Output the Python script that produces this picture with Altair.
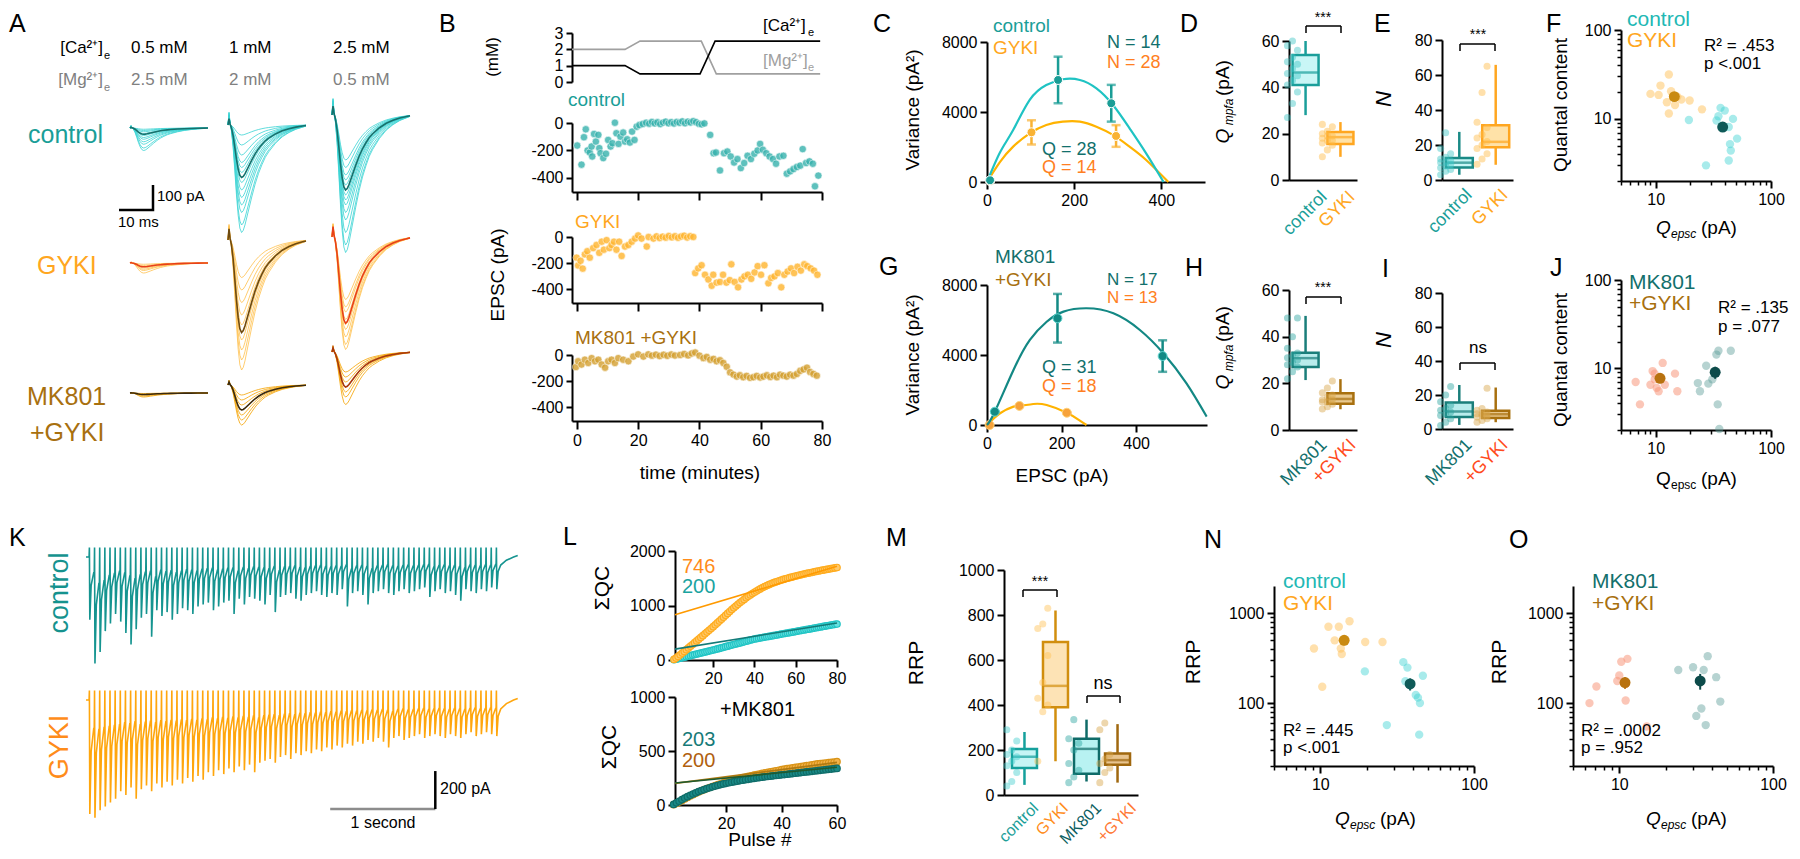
import altair as alt
import pandas as pd

W, H = 1784, 843
OX = OY = 8
FONT = "Liberation Sans"
ONE = pd.DataFrame({"k": [10.0]})
layers = []

# ---------------- colours ----------------
C_CTRL = "#1a9e98"
C_CTRL_L = "#33cfcf"
C_MK = "#12706c"
C_GY = "#ffa620"
C_GYR = "#ff7f22"
C_MKGY = "#a8700f"
C_SAL = "#f49f86"
C_RED = "#ff4a1c"

# ================= DATA =================
# Panel A: EPSC template waveform (ms, normalised) and per-cell amplitudes (pA)
A_TPL_T = [0, 0.3, 0.6, 1.0, 1.5, 2.0, 2.5, 3.0, 3.5, 4.0, 4.5, 5.0, 6.0, 7.0, 8.0, 9.0, 10.0, 11.0, 12.0, 14.0, 16.0, 18.0, 20.0, 22.0, 23.0]
A_TPL_V = [0, 0.12, 0.02, -0.05, -0.2, -0.42, -0.65, -0.84, -0.96, -1.0, -0.98, -0.93, -0.8, -0.67, -0.55, -0.45, -0.37, -0.3, -0.25, -0.17, -0.11, -0.07, -0.04, -0.02, -0.01]
A_AMP_CTRL = [[5, 10, 15, 22, 30, 38, 45, 55, 65, 80, 90],
              [40, 80, 120, 150, 170, 190, 210, 230, 260, 290, 320, 350, 400, 430],
              [180, 210, 240, 260, 280, 300, 320, 340, 360, 390, 420, 470, 520, 550]]
A_MEAN_CTRL = [25, 210, 300]
A_AMP_GYKI = [[5, 10, 15, 20, 25, 30, 40],
              [150, 200, 250, 300, 340, 370, 400, 440, 480, 520],
              [250, 280, 300, 330, 350, 370, 400, 430, 450]]
A_MEAN_GYKI = [15, 370, 345]
A_AMP_MK = [[2, 5, 8, 12, 16],
            [40, 60, 80, 100, 120, 140, 160],
            [80, 100, 120, 140, 160, 180, 210]]
A_MEAN_MK = [6, 100, 140]

# Panel B
B_CA_T = [-1.6, 15.7, 20.6, 40.2, 45.1, 79.4]
B_CA_V = [1, 1, 0.5, 0.5, 2.5, 2.5]
B_MG_T = [-1.6, 15.7, 20.6, 40.6, 45.5, 79.4]
B_MG_V = [2, 2, 2.5, 2.5, 0.5, 0.5]
B_CTRL_T = [0.1, 1.5, 2.3, 2.9, 3.5, 4.2, 4.8, 5.0, 5.6, 6.2, 7.0, 7.3, 7.7, 8.6, 9.5, 10.2, 11.0, 11.6, 12.4, 12.9, 13.6, 14.2, 15.1, 15.7, 16.4, 17.3, 18.0, 18.8, 19.5, 20.4, 21.5, 22.6, 23.6, 24.5, 25.4, 26.3, 27.2, 28.1, 29.0, 29.9, 30.8, 31.7, 32.6, 33.5, 34.4, 35.3, 36.2, 37.1, 38.0, 38.9, 39.8, 40.7, 41.6, 43.5, 44.6, 45.4, 46.7, 48.0, 49.1, 50.2, 51.3, 52.4, 53.5, 54.6, 55.7, 56.8, 57.9, 59.0, 59.8, 60.7, 61.8, 62.9, 64.0, 65.0, 66.1, 67.4, 68.5, 69.6, 70.7, 71.8, 72.9, 73.7, 74.8, 75.9, 77.0, 77.7, 78.8]
B_CTRL_V = [-165, -305, -104, -46, -201, -216, -172, -245, -80, -136, -87, -184, -221, -257, -225, -124, -172, -148, 2, -75, -153, -100, -70, -136, -119, -143, -63, -124, -27, -15, -7, 2, -5, 8, -3, 5, -8, 3, 10, -2, 6, -4, 8, 2, 12, -2, 10, 4, 14, 6, -6, -10, -3, -87, -221, -216, -347, -221, -209, -245, -289, -264, -330, -293, -240, -264, -225, -201, -153, -196, -221, -245, -264, -298, -245, -240, -371, -354, -337, -322, -312, -191, -293, -281, -298, -463, -385]
B_GY_T = [-0.1, 0.4, 1.2, 1.9, 2.6, 3.4, 4.2, 5.3, 6.4, 7.3, 8.1, 8.8, 9.7, 10.6, 11.3, 12.1, 12.9, 13.8, 14.6, 15.7, 16.8, 17.9, 19.0, 20.0, 21.1, 22.8, 23.4, 25.0, 26.0, 27.0, 28.0, 29.0, 30.0, 31.0, 32.0, 33.0, 34.0, 35.0, 36.0, 37.0, 38.0, 38.6, 39.6, 40.7, 41.8, 42.9, 44.0, 44.5, 45.6, 46.7, 47.7, 48.8, 49.9, 50.4, 51.5, 52.6, 53.7, 54.7, 55.8, 56.9, 58.0, 59.0, 60.1, 61.2, 62.5, 63.4, 64.5, 65.6, 66.7, 67.7, 68.8, 69.9, 70.9, 72.0, 73.1, 74.2, 75.2, 76.3, 77.4, 78.5]
B_GY_V = [-158, -218, -182, -242, -133, -109, -158, -85, -61, -121, -36, -97, -24, -85, -61, -36, -97, -36, -145, -73, -61, -36, -12, 12, -12, -73, 0, -12, 5, -8, 3, -5, 8, -3, 6, -6, 4, 10, -4, 6, 0, -276, -240, -216, -289, -325, -373, -289, -349, -344, -289, -349, -330, -209, -344, -385, -325, -301, -289, -320, -271, -223, -289, -216, -354, -313, -301, -276, -385, -289, -264, -240, -276, -228, -257, -209, -223, -240, -257, -289]
B_MK_T = [-0.3, 0.4, 1.5, 2.6, 3.7, 4.8, 5.9, 7.0, 8.1, 9.2, 10.2, 11.3, 12.4, 13.5, 15.1, 16.8, 18.4, 20.0, 21.7, 23.3, 24.5, 25.8, 27.0, 28.3, 29.5, 30.8, 32.0, 33.7, 35.0, 36.3, 37.5, 38.6, 40.0, 41.3, 42.4, 43.5, 44.6, 45.6, 46.7, 47.8, 48.9, 50.0, 51.1, 52.2, 53.2, 54.3, 55.4, 56.5, 57.6, 58.7, 59.8, 60.9, 62.0, 63.1, 64.2, 65.3, 66.3, 67.4, 68.5, 69.6, 70.7, 71.8, 72.9, 74.0, 75.1, 76.1, 77.2, 78.3]
B_MK_V = [-92, -48, -73, -36, -61, -24, -48, -36, -73, -97, -48, -36, -61, -24, -36, -48, -12, 5, -12, 5, -5, 3, -8, 2, -6, 4, -4, 0, 8, -3, 12, 19, -5, -24, -15, -36, -30, -48, -40, -61, -90, -133, -150, -165, -155, -170, -160, -175, -170, -160, -172, -165, -155, -168, -158, -170, -150, -158, -165, -150, -158, -145, -121, -110, -97, -130, -145, -158]

# Panel C / G (variance-mean)
C_CT_X = [7, 163, 285]; C_CT_Y = [100, 5830, 4500]; C_CT_E = [0, 1330, 1050]
C_GY_X = [7, 102, 296]; C_GY_Y = [50, 2840, 2630]; C_GY_E = [0, 690, 620]
C_CT_FX = [0, 30, 60, 98, 136, 174, 213, 251, 289, 327, 365, 405]
C_CT_FY = [0, 1700, 2970, 4690, 5540, 5870, 5830, 5350, 4400, 3070, 1640, 0]
C_GY_FX = [0, 30, 60, 98, 136, 174, 213, 251, 289, 327, 365, 416]
C_GY_FY = [0, 1150, 2020, 2780, 3260, 3450, 3450, 3160, 2690, 2020, 1260, 0]
G_MK_X = [21, 189, 471]; G_MK_Y = [760, 6100, 3940]; G_MK_E = [0, 1390, 900]
G_GY_X = [7, 87, 214]; G_GY_Y = [0, 1090, 700]; G_GY_E = [0, 0, 0]
G_MK_FX = [0, 21, 71, 115, 160, 205, 267, 339, 410, 473, 535, 589]
G_MK_FY = [0, 760, 3140, 4860, 5900, 6480, 6670, 6380, 5430, 4100, 2380, 480]
G_GY_FX = [0, 35, 71, 87, 124, 160, 214, 249, 267]
G_GY_FY = [0, 670, 1050, 1090, 1200, 1140, 700, 250, 0]

# Box plots: lo, q1, median, q3, hi
D_CATS = ["control", "GYKI"]
D_STATS = [[28, 41, 46.4, 54, 60], [10, 15.5, 18.5, 20.7, 25]]
D_PTS = [[27, 33, 38, 41, 43, 45, 46, 48, 50, 51, 53, 56, 58, 60], [10, 13, 15, 16, 17, 17, 18, 19, 19, 20, 21, 23, 24]]
E_STATS = [[3, 7.1, 9.9, 12.6, 27.5], [8.7, 18.7, 21.8, 31.3, 65.8]]
E_PTS = [[3, 5, 6, 7, 8, 9, 10, 10, 11, 12, 13, 15, 18, 27], [9, 12, 15, 18, 20, 22, 24, 26, 30, 33, 50, 65]]
H_CATS = ["MK801", "+GYKI"]
H_STATS = [[21.4, 27, 30.8, 33.1, 48.9], [8.9, 11.2, 13.3, 15.7, 21.8]]
H_PTS = [[22, 25, 27, 28, 29, 30, 31, 32, 33, 35, 40, 48, 48], [9, 10, 11, 12, 12, 13, 13, 14, 15, 16, 18, 21]]
I_STATS = [[2.4, 7.1, 10.3, 15.6, 25.9], [4, 6.5, 8.7, 10.8, 24.4]]
I_PTS = [[2, 4, 6, 8, 9, 10, 11, 12, 14, 16, 20, 25], [4, 5, 6, 7, 8, 8, 9, 9, 10, 11, 12, 24]]
M_CATS = ["control", "GYKI", "MK801", "+GYKI"]
M_STATS = [[45, 120, 170, 205, 280], [150, 390, 485, 680, 820], [60, 95, 205, 250, 335], [55, 135, 155, 185, 315]]
M_PTS = [[40, 60, 100, 130, 150, 170, 180, 200, 240, 290], [150, 370, 400, 430, 500, 620, 740, 760, 830],
         [55, 80, 110, 140, 200, 230, 250, 335], [55, 100, 120, 140, 160, 180, 290, 320]]

# Scatter panels (F, J, N, O)
F_GY_Q = [9.0, 10.6, 13.0, 11.0, 13.0, 14.7, 16.7, 19.7, 25.2, 13.6, 12.5, 15.4]
F_GY_QC = [19.1, 18.6, 31.6, 23.7, 11.5, 14.3, 16.5, 16.1, 12.8, 20.5, 15.4, 17.8]
F_CT_Q = [19.4, 27.3, 35.0, 36.5, 43.0, 44.1, 44.8, 43.0, 50.8, 39.7, 33.7, 46.8]
F_CT_QC = [9.7, 3.0, 10.7, 13.3, 8.1, 5.2, 4.4, 3.4, 6.0, 12.4, 9.6, 10.0]
F_MEAN_Q = [14.5, 38.1]; F_MEAN_QC = [17.8, 8.1]; F_MEAN_E = [1.2, 0.8]
J_GY_Q = [6.7, 7.3, 9.4, 9.8, 9.0, 10.2, 11.5, 10.6, 12.0, 14.7, 15.4, 9.8]
J_GY_QC = [7.0, 3.9, 9.3, 7.5, 6.5, 6.0, 11.5, 5.5, 6.5, 8.7, 5.5, 8.7]
J_MK_Q = [23.2, 24.2, 28.6, 27.4, 31.0, 33.6, 35.0, 44.8, 34.5, 35.6, 32.3]
J_MK_QC = [6.8, 5.5, 6.7, 10.7, 7.5, 14.3, 15.8, 15.8, 3.9, 2.05, 9.3]
J_MEAN_Q = [10.9, 32.8]; J_MEAN_QC = [7.7, 9.0]; J_MEAN_E = [0.9, 1.4]
N_GY_Q = [9.1, 10.3, 11.3, 13.2, 15.5, 13.6, 13.8, 19.6, 25.4, 12.4]
N_GY_R = [404, 152, 706, 706, 811, 404, 351, 477, 477, 498]
N_CT_Q = [19.5, 27.1, 34.7, 36.9, 35.8, 41.8, 43.2, 44.5, 46.5, 44.0]
N_CT_R = [225, 57, 285, 248, 175, 123, 115, 100, 201, 44.6]
N_MEAN_Q = [14.3, 38.4]; N_MEAN_R = [498, 163]; N_MEAN_E = [60, 25]
O_GY_Q = [6.4, 7.1, 9.7, 10.3, 11.3, 11.0, 10.0, 11.0, 15.1]
O_GY_R = [100, 153, 176, 288, 310, 107, 203, 164, 55]
O_MK_Q = [24.2, 30.2, 35.4, 37.6, 42.7, 45.4, 34.2, 31.7, 36.5]
O_MK_R = [233, 250, 233, 332, 194, 104, 87, 72, 57]
O_MEAN_Q = [10.9, 33.6]; O_MEAN_R = [169, 176]; O_MEAN_E = [25, 35]

# Panel K: per-pulse EPSC amplitudes (pA), 20 Hz train
K_CTRL = [330, 560, 500, 390, 350, 300, 340, 400, 460, 380, 320, 300, 420, 280, 310, 290, 330, 300, 270, 280,
          300, 260, 250, 240, 280, 260, 240, 230, 300, 220, 250, 210, 220, 230, 250, 200, 290, 210, 200, 190,
          220, 230, 200, 190, 180, 200, 210, 190, 200, 170, 260, 190, 180, 200, 250, 190, 180, 170, 190, 200,
          180, 170, 190, 180, 170, 160, 210, 180, 170, 190, 180, 200, 230, 170, 180, 190, 170, 180, 160, 170]
K_GYKI = [600, 620, 580, 560, 540, 520, 480, 500, 460, 520, 470, 450, 480, 440, 460, 430, 450, 420, 440, 410,
          430, 400, 420, 380, 400, 370, 390, 360, 380, 350, 370, 340, 380, 330, 320, 310, 330, 300, 290, 310,
          280, 290, 270, 280, 260, 270, 250, 260, 240, 250, 230, 240, 220, 230, 210, 220, 200, 220, 250, 200,
          190, 210, 200, 190, 180, 200, 190, 180, 190, 200, 180, 190, 200, 180, 170, 190, 180, 170, 180, 190]
K_ART = 50
K_OFF_T = [0.0, 0.003, 0.007, 0.02, 0.045]
K_OFF_F = [-0.25, None, -1.0, -0.45, -0.25]

# Panel L: cumulative quantal content
L_GY = [10, 35, 65, 96, 127, 158, 190, 222, 253, 285, 318, 350, 382, 414, 447, 480, 512, 545, 578, 612,
        646, 680, 715, 750, 785, 820, 855, 890, 925, 958, 990, 1022, 1053, 1083, 1112, 1140, 1168, 1194, 1219, 1243,
        1266, 1288, 1309, 1329, 1348, 1366, 1383, 1399, 1414, 1428, 1441, 1454, 1466, 1478, 1489, 1500, 1510, 1520, 1530, 1540,
        1549, 1558, 1567, 1576, 1585, 1593, 1601, 1609, 1617, 1625, 1633, 1641, 1648, 1655, 1662, 1669, 1676, 1683, 1690, 1697]
L_CT = [5, 14, 24, 33, 43, 52, 61, 71, 80, 90, 99, 108, 118, 127, 136, 146, 155, 164, 174, 183,
        193, 203, 213, 223, 233, 244, 254, 264, 274, 284, 294, 304, 314, 324, 334, 345, 355, 365, 375, 385,
        392, 399, 406, 413, 420, 426, 433, 440, 447, 454, 461, 468, 475, 482, 489, 495, 502, 509, 516, 523,
        530, 537, 544, 551, 558, 564, 571, 578, 585, 592, 599, 606, 613, 620, 627, 633, 640, 647, 654, 660]
L_MK = [5, 20, 35, 50, 64, 77, 90, 102, 113, 124, 134, 143, 152, 160, 168, 175, 182, 189, 195, 201,
        206, 211, 216, 221, 226, 230, 234, 238, 242, 246, 250, 254, 258, 261, 264, 267, 270, 273, 276, 279,
        282, 285, 288, 291, 294, 297, 300, 303, 306, 309, 312, 315, 318, 321, 324, 327, 330, 333, 336, 339]
L_MKGY = [3, 15, 28, 42, 56, 70, 83, 96, 108, 120, 131, 142, 152, 162, 171, 180, 189, 197, 205, 213,
          220, 227, 234, 241, 247, 253, 259, 265, 271, 277, 282, 287, 292, 297, 302, 307, 312, 317, 322, 327,
          332, 336, 340, 344, 348, 352, 356, 360, 364, 368, 372, 376, 380, 383, 386, 389, 392, 395, 398, 401]
L_FIT_TOP = {"GYKI": ([1.5, 80], [830, 1720]), "control": ([1.5, 80], [200, 680])}
L_FIT_BOT = {"MK": ([1.5, 60], [203, 350]), "MKGY": ([1.5, 60], [200, 395])}


# ================= HELPERS =================
def sx(dom, a, b, typ="linear"):
    kw = dict(type=typ, domain=dom, range=[a - OX, b - OX], nice=False)
    if typ == "linear":
        kw["zero"] = False
    return alt.Scale(**kw)


def sy(dom, yb, yt, typ="linear"):
    kw = dict(type=typ, domain=dom, range=[yb - OY, yt - OY], nice=False)
    if typ == "linear":
        kw["zero"] = False
    return alt.Scale(**kw)


def _ax(**kw):
    d = dict(title=None, grid=False, labelFlush=False, labelOverlap=False, domainColor="black", domainWidth=2,
             tickColor="black", tickWidth=2, tickSize=7, labelFont=FONT, labelFontSize=16, labelColor="black",
             labelPadding=3)
    d.update(kw)
    return d


def AXB(Y, values=None, labels=True, **kw):
    d = _ax(**kw)
    d.update(orient="bottom", offset=(Y - OY) - H, labels=labels)
    if values is not None:
        d["values"] = values
    if labels and "labelExpr" not in d:
        d["labelExpr"] = "'' + datum.value"
    return alt.Axis(**d)


def AXL(X, values=None, labels=True, **kw):
    d = _ax(**kw)
    d.update(orient="left", offset=OX - X, labels=labels)
    if values is not None:
        d["values"] = values
    if labels and "labelExpr" not in d:
        d["labelExpr"] = "'' + datum.value"
    return alt.Axis(**d)


def T(s, X, Y, size=16, color="black", align="left", baseline="middle", angle=0, style="normal"):
    layers.append(alt.Chart(ONE).mark_text(text=s, font=FONT, fontSize=size, color=color, align=align,
                                           baseline=baseline, angle=angle, fontStyle=style)
                  .encode(x=alt.value(X - OX), y=alt.value(Y - OY)))


def LET(s, X, Y):
    # panel letter; Y is the baseline
    T(s, X, Y, 25, baseline="alphabetic")


def R(X1, Y1, X2, Y2, color="black", w=2):
    layers.append(alt.Chart(ONE).mark_rule(color=color, strokeWidth=w)
                  .encode(x=alt.value(X1 - OX), y=alt.value(Y1 - OY), x2=alt.value(X2 - OX), y2=alt.value(Y2 - OY)))


def bracket(xa, xb, y, leg=7):
    R(xa, y + leg, xa, y, w=1.5)
    R(xa, y, xb, y, w=1.5)
    R(xb, y, xb, y + leg, w=1.5)


# ================= PANEL A =================
A_COLX = [130, 228, 332]
A_SPECS = [
    (A_AMP_CTRL, A_MEAN_CTRL, "#3ad3d3", ["#17706c", "#17706c", "#17706c"], [128, 125, 115]),
    (A_AMP_GYKI, A_MEAN_GYKI, "#ffc04d", ["#e8401a", "#6e4a10", "#e8401a"], [263, 240, 237]),
    (A_AMP_MK, A_MEAN_MK, "#f5a300", ["#3a2a10", "#3a2a10", "#a8380e"], [393, 385, 352]),
]
for amps_row, mean_row, light, darks, bases in A_SPECS:
    for c in range(3):
        rows = []
        for k, a in enumerate(amps_row[c]):
            for t, f in zip(A_TPL_T, A_TPL_V):
                rows.append({"k": k, "t": t, "v": a * f})
        df = pd.DataFrame(rows)
        mdf = pd.DataFrame({"t": A_TPL_T, "v": [mean_row[c] * f for f in A_TPL_V]})
        xs = sx([0, 23], A_COLX[c], A_COLX[c] + 78)
        ys = sy([-600, 0], bases[c] + 150, bases[c])
        layers.append(alt.Chart(df).mark_line(color=light, strokeWidth=1, opacity=0.8)
                      .encode(x=alt.X("t:Q", scale=xs, axis=None), y=alt.Y("v:Q", scale=ys, axis=None), detail="k:N"))
        layers.append(alt.Chart(mdf).mark_line(color=darks[c], strokeWidth=1.6)
                      .encode(x=alt.X("t:Q", scale=xs, axis=None), y=alt.Y("v:Q", scale=ys, axis=None)))

# scale bar A: 10 ms / 100 pA
sbA = pd.DataFrame({"t": [0, 10, 10], "v": [0, 0, 100]})
layers.append(alt.Chart(sbA).mark_line(color="black", strokeWidth=2.5)
              .encode(x=alt.X("t:Q", scale=sx([0, 10], 119, 153), axis=None),
                      y=alt.Y("v:Q", scale=sy([0, 100], 210, 185), axis=None)))
T("100 pA", 157, 196, 15)
T("10 ms", 118, 222, 15)

ROW1 = 32
LET("A", 9, ROW1)
T("[Ca²⁺]", 103, 48, 17, align="right")
T("e", 104, 56, 11)
T("[Mg²⁺]", 103, 80, 17, "#808080", align="right")
T("e", 104, 88, 11, "#808080")
for s, x in zip(["0.5 mM", "1 mM", "2.5 mM"], A_COLX):
    T(s, x + 1, 48, 17)
for s, x in zip(["2.5 mM", "2 mM", "0.5 mM"], A_COLX):
    T(s, x + 1, 80, 17, "#808080")
T("control", 28, 135, 25, C_CTRL)
T("GYKI", 37, 266, 25, C_GY)
T("MK801", 27, 397, 25, C_MKGY)
T("+GYKI", 30, 433, 25, C_MKGY)

# ================= PANEL B =================
LET("B", 439, ROW1)
Bx = sx([-1.6, 80], 572, 822)
concY = sy([0, 3], 82, 33)
layers.append(alt.Chart(pd.DataFrame({"t": B_MG_T, "v": B_MG_V})).mark_line(color="#a0a0a0", strokeWidth=1.6)
              .encode(x=alt.X("t:Q", scale=Bx, axis=None),
                      y=alt.Y("v:Q", scale=concY, axis=AXL(572, [0, 1, 2, 3], tickSize=6))))
layers.append(alt.Chart(pd.DataFrame({"t": B_CA_T, "v": B_CA_V})).mark_line(color="black", strokeWidth=1.6)
              .encode(x=alt.X("t:Q", scale=Bx, axis=None), y=alt.Y("v:Q", scale=concY, axis=None)))
T("(mM)", 493, 57, 17, angle=270, align="center")
T("[Ca²⁺]", 763, 26, 17)
T("e", 808, 33, 11)
T("[Mg²⁺]", 763, 61, 17, "#a0a0a0")
T("e", 808, 68, 11, "#a0a0a0")

for (tt, vv, col, yb, yt, lab) in [(B_CTRL_T, B_CTRL_V, "#37b2ad", 192, 123, False),
                                    (B_GY_T, B_GY_V, "#ffb52e", 303, 237, False),
                                    (B_MK_T, B_MK_V, "#d4a030", 421, 355, True)]:
    ys = sy([-505, 0], yb, yt)
    layers.append(alt.Chart(pd.DataFrame({"t": tt, "v": vv}))
                  .mark_circle(size=55, color=col, opacity=0.8, stroke="white", strokeWidth=0.6)
                  .encode(x=alt.X("t:Q", scale=Bx, axis=AXB(yb, [0, 20, 40, 60, 80], labels=lab, tickSize=8)),
                          y=alt.Y("v:Q", scale=ys, axis=AXL(572, [0, -200, -400], tickSize=6))))
T("control", 568, 100, 19, C_CTRL)
T("GYKI", 575, 222, 19, C_GY)
T("MK801 +GYKI", 575, 338, 19, C_MKGY)
T("EPSC (pA)", 498, 275, 19, angle=270, align="center")
T("time (minutes)", 700, 473, 19, align="center")

# ================= PANEL C / G =================
def varmean(px_x, py_, pe, fx, fy, col_pt, col_line, xs, ys, axes=False, yax=None, xax=None, stroke="white"):
    ldf = pd.DataFrame({"x": fx, "y": fy})
    layers.append(alt.Chart(ldf).mark_line(color=col_line, strokeWidth=2.2, interpolate="natural")
                  .encode(x=alt.X("x:Q", scale=xs, axis=xax if axes else None),
                          y=alt.Y("y:Q", scale=ys, axis=yax if axes else None)))
    pdf = pd.DataFrame({"x": px_x, "y": py_, "lo": [a - b for a, b in zip(py_, pe)], "hi": [a + b for a, b in zip(py_, pe)]})
    layers.append(alt.Chart(pdf).mark_rule(color=col_pt, strokeWidth=2.5)
                  .encode(x=alt.X("x:Q", scale=xs, axis=None), y=alt.Y("lo:Q", scale=ys, axis=None), y2="hi:Q"))
    layers.append(alt.Chart(pdf).mark_tick(color=col_pt, thickness=2.5, size=9, orient="horizontal")
                  .encode(x=alt.X("x:Q", scale=xs, axis=None), y=alt.Y("hi:Q", scale=ys, axis=None)))
    layers.append(alt.Chart(pdf).mark_tick(color=col_pt, thickness=2.5, size=9, orient="horizontal")
                  .encode(x=alt.X("x:Q", scale=xs, axis=None), y=alt.Y("lo:Q", scale=ys, axis=None)))
    layers.append(alt.Chart(pdf).mark_circle(size=80, color=col_pt, opacity=1, stroke=stroke, strokeWidth=1)
                  .encode(x=alt.X("x:Q", scale=xs, axis=None), y=alt.Y("y:Q", scale=ys, axis=None)))


Cx = sx([0, 500], 987, 1205); Cy = sy([0, 8000], 182, 42)
varmean(C_GY_X, C_GY_Y, C_GY_E, C_GY_FX, C_GY_FY, "#f9b233", "#ffb300", Cx, Cy)
varmean(C_CT_X, C_CT_Y, C_CT_E, C_CT_FX, C_CT_FY, "#1a9d96", "#1fc3c3", Cx, Cy, True,
        AXL(987, [0, 4000, 8000]), AXB(182, [0, 200, 400]))
Gx = sx([0, 590], 987, 1207); Gy = sy([0, 8000], 425, 285)
varmean(G_GY_X, G_GY_Y, G_GY_E, G_GY_FX, G_GY_FY, "#f7a23a", "#ffb300", Gx, Gy, stroke="#ffd27a")
varmean(G_MK_X, G_MK_Y, G_MK_E, G_MK_FX, G_MK_FY, "#138a84", "#138884", Gx, Gy, True,
        AXL(987, [0, 4000, 8000]), AXB(425, [0, 200, 400]), stroke="#5fd6d0")
LET("C", 873, ROW1)
LET("G", 879, 275)
T("Variance (pA²)", 913, 110, 19, angle=270, align="center")
T("Variance (pA²)", 913, 355, 19, angle=270, align="center")
T("control", 993, 26, 19, C_CTRL)
T("GYKI", 993, 48, 19, C_GY)
T("N = 14", 1107, 43, 18, C_MK)
T("N = 28", 1107, 63, 18, C_GYR)
T("Q = 28", 1042, 150, 18, C_MK)
T("Q = 14", 1042, 168, 18, C_GYR)
T("MK801", 995, 257, 19, C_MK)
T("+GYKI", 995, 280, 19, C_MKGY)
T("N = 17", 1107, 280, 17, C_MK)
T("N = 13", 1107, 298, 17, C_GYR)
T("Q = 31", 1042, 368, 18, C_MK)
T("Q = 18", 1042, 387, 18, C_GYR)
T("EPSC (pA)", 1062, 476, 19, align="center")


# ================= BOX PANELS =================
def box_panel(cats, stats, pts, strokes, fills, pcols, X0, X1, Yb, Yt, ydom, yvals, pin, pout, bw):
    xs = alt.Scale(type="band", domain=cats, range=[X0 - OX, X1 - OX], paddingInner=pin, paddingOuter=pout)
    ys = sy(ydom, Yb, Yt)
    st = pd.DataFrame({"cat": cats, "lo": [s[0] for s in stats], "q1": [s[1] for s in stats],
                       "med": [s[2] for s in stats], "q3": [s[3] for s in stats], "hi": [s[4] for s in stats],
                       "s": strokes, "f": fills})
    prow = []
    for ci, (c, vals) in enumerate(zip(cats, pts)):
        for i, v in enumerate(vals):
            prow.append({"cat": c, "v": v, "c": pcols[ci], "off": ((i % 3) - 1) * 5})
    pdf = pd.DataFrame(prow)
    layers.append(alt.Chart(st).mark_rule(strokeWidth=2.5)
                  .encode(x=alt.X("cat:N", scale=xs, axis=AXB(Yb, labels=False, ticks=False)),
                          y=alt.Y("lo:Q", scale=ys, axis=AXL(X0, yvals)), y2="hi:Q",
                          color=alt.Color("s:N", scale=None)))
    layers.append(alt.Chart(st).mark_bar(strokeWidth=2.5, size=bw)
                  .encode(x=alt.X("cat:N", scale=xs, axis=None), y=alt.Y("q1:Q", scale=ys, axis=None), y2="q3:Q",
                          fill=alt.Fill("f:N", scale=None), stroke=alt.Stroke("s:N", scale=None)))
    layers.append(alt.Chart(st).mark_tick(thickness=2.5, size=bw, orient="horizontal")
                  .encode(x=alt.X("cat:N", scale=xs, axis=None), y=alt.Y("med:Q", scale=ys, axis=None),
                          color=alt.Color("s:N", scale=None)))
    layers.append(alt.Chart(pdf).mark_circle(size=50, opacity=0.45)
                  .encode(x=alt.X("cat:N", scale=xs, axis=None), xOffset=alt.XOffset("off:Q", scale=None),
                          y=alt.Y("v:Q", scale=ys, axis=None), color=alt.Color("c:N", scale=None)))


box_panel(D_CATS, D_STATS, D_PTS, ["#1a9e9a", "#ffa620"], ["#c9f6f6", "#ffe2a8"], ["#3fc6c6", "#ffbb44"],
          1289, 1357, 180, 41, [0, 60], [0, 20, 40, 60], 0.25, 0.1, 26)
box_panel(D_CATS, E_STATS, E_PTS, ["#1a8a86", "#ffa620"], ["#c9f6f6", "#ffe2a8"], ["#3fc6c6", "#ffbb44"],
          1442, 1513, 180, 40, [0, 80], [0, 20, 40, 60, 80], 0.25, 0.1, 27)
box_panel(H_CATS, H_STATS, H_PTS, ["#1a7e7a", "#a8700f"], ["#b9ecec", "#e9c98f"], ["#2aa5a0", "#d7a348"],
          1289, 1357, 430, 290, [0, 60], [0, 20, 40, 60], 0.25, 0.1, 26)
box_panel(H_CATS, I_STATS, I_PTS, ["#1a7e7a", "#a8700f"], ["#b9ecec", "#e9c98f"], ["#2aa5a0", "#d7a348"],
          1442, 1513, 429, 293, [0, 80], [0, 20, 40, 60, 80], 0.25, 0.1, 27)
box_panel(M_CATS, M_STATS, M_PTS, ["#15a09c", "#d18e0e", "#0f6b68", "#a0680f"],
          ["#c6f5f5", "#fde3b5", "#b8f2f2", "#e8c48f"], ["#45cfcf", "#ffc055", "#2aa5a0", "#d7a348"],
          1004, 1138, 795, 570, [0, 1000], [0, 200, 400, 600, 800, 1000], 0.18, 0.25, 25)

LET("D", 1180, ROW1); LET("E", 1374, ROW1); LET("H", 1185, 276); LET("I", 1382, 277); LET("M", 886, 546)
for yc in [104, 350]:
    T("Q", 1223, yc + 32, 19, angle=270, style="italic", align="center")
    T("mpfa", 1229, yc + 8, 12, angle=270, style="italic", align="center")
    T("(pA)", 1223, yc - 26, 19, angle=270, align="center")
T("N", 1384, 99, 22, angle=270, style="italic", align="center")
T("N", 1384, 340, 22, angle=270, style="italic", align="center")
T("***", 1323, 18, 14, align="center"); bracket(1306, 1341, 26)
T("***", 1478, 35, 14, align="center"); bracket(1460, 1495, 44)
T("***", 1323, 288, 14, align="center"); bracket(1306, 1341, 297)
T("ns", 1478, 348, 17, align="center"); bracket(1460, 1495, 363)
for s, x, col in [("control", 1318, C_CTRL), ("GYKI", 1346, C_GY)]:
    T(s, x, 188, 18, col, align="right", baseline="top", angle=315)
for s, x, col in [("control", 1463, C_CTRL), ("GYKI", 1499, C_GY)]:
    T(s, x, 186, 18, col, align="right", baseline="top", angle=315)
for s, x, col in [("MK801", 1318, C_MK), ("+GYKI", 1347, C_RED)]:
    T(s, x, 436, 18, col, align="right", baseline="top", angle=315)
for s, x, col in [("MK801", 1463, C_MK), ("+GYKI", 1499, C_RED)]:
    T(s, x, 436, 18, col, align="right", baseline="top", angle=315)
T("RRP", 917, 663, 21, angle=270, align="center")
T("***", 1040, 582, 14, align="center"); bracket(1023, 1057, 590)
T("ns", 1103, 684, 18, align="center"); bracket(1087, 1120, 696)
for s, x, col in [("control", 1030, C_CTRL), ("GYKI", 1060, "#ff8c1a"), ("MK801", 1093, "#0b5e5e"), ("+GYKI", 1128, "#ff7733")]:
    T(s, x, 800, 16, col, align="right", baseline="top", angle=315)


# ================= LOG SCATTER PANELS =================
MINOR = [2, 3, 4, 5, 6, 7, 8, 9, 20, 30, 40, 50, 60, 70, 80, 90, 200, 300, 400, 500, 600, 700, 800, 900]


def log_panel(xs, ys, X0, Yb, yvals, groups, means, mean_cols):
    mdf = pd.DataFrame({"q": [10.0], "r": [yvals[0]]})
    layers.append(alt.Chart(mdf).mark_point(opacity=0)
                  .encode(x=alt.X("q:Q", scale=xs, axis=AXB(Yb, [v for v in MINOR if xs.domain[0] <= v <= xs.domain[1]],
                                                          labels=False, domain=False, tickSize=4, tickWidth=1.5)),
                          y=alt.Y("r:Q", scale=ys, axis=AXL(X0, [v for v in MINOR if ys.domain[0] <= v <= ys.domain[1]],
                                                          labels=False, domain=False, tickSize=4, tickWidth=1.5))))
    first = True
    for q, r, col, op in groups:
        gdf = pd.DataFrame({"q": q, "r": r})
        layers.append(alt.Chart(gdf).mark_circle(size=70, color=col, opacity=op)
                      .encode(x=alt.X("q:Q", scale=xs, axis=AXB(Yb, [10, 100]) if first else None),
                              y=alt.Y("r:Q", scale=ys, axis=AXL(X0, yvals) if first else None)))
        first = False
    mq, mr, me = means
    mdf2 = pd.DataFrame({"q": mq, "r": mr, "lo": [a - b for a, b in zip(mr, me)], "hi": [a + b for a, b in zip(mr, me)],
                         "c": mean_cols})
    layers.append(alt.Chart(mdf2).mark_rule(strokeWidth=2)
                  .encode(x=alt.X("q:Q", scale=xs, axis=None), y=alt.Y("lo:Q", scale=ys, axis=None), y2="hi:Q",
                          color=alt.Color("c:N", scale=None)))
    layers.append(alt.Chart(mdf2).mark_circle(size=120, opacity=1)
                  .encode(x=alt.X("q:Q", scale=xs, axis=None), y=alt.Y("r:Q", scale=ys, axis=None),
                          color=alt.Color("c:N", scale=None)))


log_panel(sx([5, 100], 1621, 1771, "log"), sy([2, 100], 181, 30, "log"), 1621, 181, [10, 100],
          [(F_GY_Q, F_GY_QC, "#ffc25a", 0.5), (F_CT_Q, F_CT_QC, "#3fd2d2", 0.45)],
          (F_MEAN_Q, F_MEAN_QC, F_MEAN_E), ["#c98a12", "#0f5a58"])
log_panel(sx([5, 100], 1621, 1771, "log"), sy([2, 100], 430, 280, "log"), 1621, 430, [10, 100],
          [(J_GY_Q, J_GY_QC, "#f7987c", 0.55), (J_MK_Q, J_MK_QC, "#5e9e9a", 0.45)],
          (J_MEAN_Q, J_MEAN_QC, J_MEAN_E), ["#b8720f", "#0d4b4a"])
log_panel(sx([5, 100], 1274, 1474, "log"), sy([20, 2000], 766, 586, "log"), 1274, 766, [100, 1000],
          [(N_GY_Q, N_GY_R, "#ffc25a", 0.5), (N_CT_Q, N_CT_R, "#3fd2d2", 0.45)],
          (N_MEAN_Q, N_MEAN_R, N_MEAN_E), ["#c98a12", "#0f5a58"])
log_panel(sx([5, 100], 1573, 1773, "log"), sy([20, 2000], 766, 586, "log"), 1573, 766, [100, 1000],
          [(O_GY_Q, O_GY_R, "#f7987c", 0.55), (O_MK_Q, O_MK_R, "#5e9e9a", 0.45)],
          (O_MEAN_Q, O_MEAN_R, O_MEAN_E), ["#b8720f", "#0d4b4a"])

LET("F", 1546, ROW1); LET("J", 1550, 276); LET("N", 1204, 548); LET("O", 1509, 548)
T("Quantal content", 1561, 105, 19, angle=270, align="center")
T("Quantal content", 1561, 360, 19, angle=270, align="center")
T("control", 1627, 20, 21, "#22b8b4"); T("GYKI", 1627, 41, 21, C_GY)
T("R² = .453", 1704, 46, 17); T("p <.001", 1704, 64, 17)
T("MK801", 1629, 283, 21, C_MK); T("+GYKI", 1629, 304, 21, C_MKGY)
T("R² = .135", 1718, 308, 17); T("p = .077", 1718, 327, 17)
for (x0, y0, it) in [(1656, 228, "italic"), (1656, 479, "normal"), (1335, 819, "italic"), (1646, 819, "italic")]:
    T("Q", x0, y0, 19, style=it)
    T("epsc", x0 + 15, y0 + 6, 12, style=it)
    T("(pA)", x0 + 45, y0, 19)
T("RRP", 1194, 662, 21, angle=270, align="center"); T("RRP", 1500, 662, 21, angle=270, align="center")
T("control", 1283, 582, 21, "#22b8b4"); T("GYKI", 1283, 604, 21, C_GY)
T("R² = .445", 1283, 731, 17); T("p <.001", 1283, 748, 17)
T("MK801", 1592, 582, 21, C_MK); T("+GYKI", 1592, 604, 21, C_MKGY)
T("R² = .0002", 1581, 731, 17); T("p = .952", 1581, 748, 17)

# ================= PANEL K =================
Kx = sx([-0.03, 4.25], 86, 527)
for amps, base, col in [(K_CTRL, 557, "#159490"), (K_GYKI, 700, "#ffa60d")]:
    rows = [{"t": -0.03, "v": 0}]
    prev = 0
    for i, a in enumerate(amps):
        t0 = i * 0.05
        for dt, f in zip(K_OFF_T, K_OFF_F):
            if f is None:
                v = K_ART
            elif dt == 0.0:
                v = f * prev
            else:
                v = f * a
            rows.append({"t": t0 + dt, "v": v})
        prev = a
    rows += [{"t": 4.05, "v": -0.1 * prev}, {"t": 4.12, "v": 0}, {"t": 4.16, "v": 8}]
    kdf = pd.DataFrame(rows)
    kdf["i"] = range(len(kdf))
    layers.append(alt.Chart(kdf).mark_line(color=col, strokeWidth=1.6)
                  .encode(x=alt.X("t:Q", scale=Kx, axis=None),
                          y=alt.Y("v:Q", scale=sy([-700, 100], base + 133, base - 19), axis=None),
                          order="i:Q"))
sbK1 = pd.DataFrame({"t": [2.34, 3.36], "v": [-574, -574]})
sbK2 = pd.DataFrame({"t": [3.36, 3.36], "v": [-574, -374]})
KyG = sy([-700, 100], 833, 681)
layers.append(alt.Chart(sbK1).mark_line(color="#8c8c8c", strokeWidth=2.5)
              .encode(x=alt.X("t:Q", scale=Kx, axis=None), y=alt.Y("v:Q", scale=KyG, axis=None)))
layers.append(alt.Chart(sbK2).mark_line(color="black", strokeWidth=2.5)
              .encode(x=alt.X("t:Q", scale=Kx, axis=None), y=alt.Y("v:Q", scale=KyG, axis=None)))
LET("K", 9, 546)
T("control", 60, 593, 27, "#15928e", angle=270, align="center")
T("GYKI", 60, 747, 27, "#ff8c1a", angle=270, align="center")
T("1 second", 383, 823, 16, align="center")
T("200 pA", 440, 789, 16)

# ================= PANEL L =================
LET("L", 563, 545)
Ltx = sx([1.5, 80], 675, 837); Lty = sy([0, 2000], 660, 551)
Lbx = sx([1.5, 60], 675, 837); Lby = sy([0, 1000], 805, 697)
first = True
for vals, fill, strk in [(L_CT, "#66e0e0", "#22c4c4"), (L_GY, "#ffc96b", "#ffac1f")]:
    d = pd.DataFrame({"p": list(range(1, len(vals) + 1)), "v": vals})
    layers.append(alt.Chart(d).mark_point(filled=True, size=42, fill=fill, stroke=strk, strokeWidth=1.2, opacity=1)
                  .encode(x=alt.X("p:Q", scale=Ltx, axis=AXB(660, [20, 40, 60, 80]) if first else None),
                          y=alt.Y("v:Q", scale=Lty, axis=AXL(675, [0, 1000, 2000]) if first else None)))
    first = False
for key, col in [("GYKI", "#ff9a00"), ("control", "#137b78")]:
    xx, yy = L_FIT_TOP[key]
    layers.append(alt.Chart(pd.DataFrame({"p": xx, "v": yy})).mark_line(color=col, strokeWidth=1.6)
                  .encode(x=alt.X("p:Q", scale=Ltx, axis=None), y=alt.Y("v:Q", scale=Lty, axis=None)))
first = True
for vals, fill, strk in [(L_MKGY, "#f2b24a", "#d99418"), (L_MK, "#1b8a86", "#0f6d6a")]:
    d = pd.DataFrame({"p": list(range(1, len(vals) + 1)), "v": vals})
    layers.append(alt.Chart(d).mark_point(filled=True, size=42, fill=fill, stroke=strk, strokeWidth=1.2, opacity=1)
                  .encode(x=alt.X("p:Q", scale=Lbx, axis=AXB(805, [20, 40, 60]) if first else None),
                          y=alt.Y("v:Q", scale=Lby, axis=AXL(675, [0, 500, 1000]) if first else None)))
    first = False
for key, col in [("MKGY", "#b07a12"), ("MK", "#1f5a2e")]:
    xx, yy = L_FIT_BOT[key]
    layers.append(alt.Chart(pd.DataFrame({"p": xx, "v": yy})).mark_line(color=col, strokeWidth=1.6)
                  .encode(x=alt.X("p:Q", scale=Lbx, axis=None), y=alt.Y("v:Q", scale=Lby, axis=None)))
T("ΣQC", 603, 588, 21, angle=270, align="center")
T("ΣQC", 610, 747, 21, angle=270, align="center")
T("746", 682, 567, 20, "#ff8c1a"); T("200", 682, 587, 20, "#1aa3a0")
T("+MK801", 720, 710, 20)
T("203", 682, 740, 20, "#167a78"); T("200", 682, 761, 20, "#b0600f")
T("Pulse #", 760, 840, 19, align="center")

chart = (alt.layer(*layers)
         .resolve_scale(x="independent", y="independent", color="independent", fill="independent",
                        stroke="independent", xOffset="independent")
         .resolve_axis(x="independent", y="independent")
         .properties(width=W, height=H, autosize=alt.AutoSizeParams(type="none"), padding=0)
         .configure_view(stroke=None))

chart.save("out.html", embed_options={"renderer": "svg", "actions": False})
